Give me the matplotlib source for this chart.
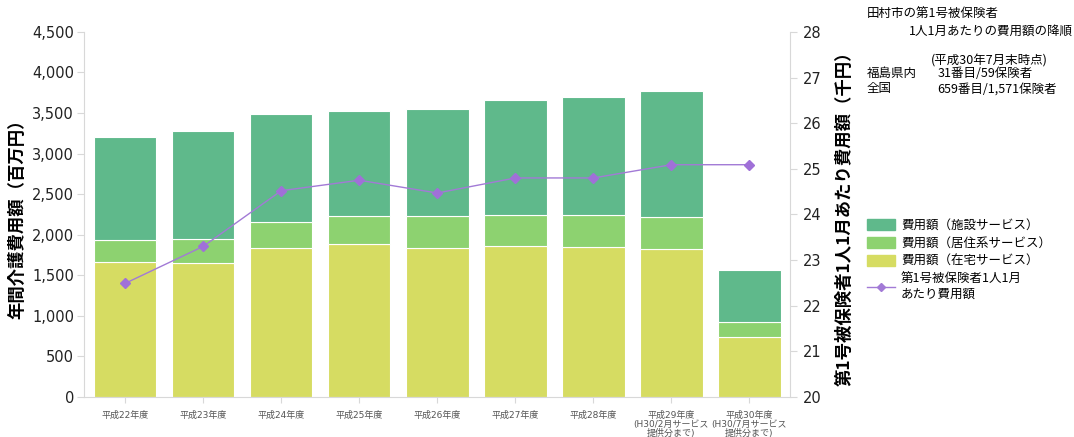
import numpy as np
import matplotlib.pyplot as plt
from matplotlib.patches import Patch
from matplotlib.lines import Line2D

plt.rcParams['font.family'] = ['DejaVu Sans', 'Noto Sans CJK JP']

#------------------------------data-------------------------------------
years = ["平成22年度", "平成23年度", "平成24年度", "平成25年度", "平成26年度",
         "平成27年度", "平成28年度",
         "平成29年度\n(H30/2月サービス\n提供分まで)",
         "平成30年度\n(H30/7月サービス\n提供分まで)"]

# 百万円 (stack: 在宅 / 居住系 / 施設)
zaitaku = np.array([1661, 1648, 1837, 1883, 1837, 1858, 1846, 1825, 736])
kyoju = np.array([271, 296, 317, 349, 395, 386, 398, 391, 185])
shisetsu = np.array([1270, 1336, 1339, 1298, 1323, 1418, 1451, 1553, 649])

# 千円
per_person = np.array([22.49, 23.3, 24.52, 24.75, 24.47, 24.8, 24.8, 25.09, 25.09])
#-----------------------------------------------------------------------

c_zaitaku = "#d6dc62"
c_kyoju = "#8dd270"
c_shisetsu = "#5fb98b"
c_line = "#a27ad6"
spine_col = "#d8d8d8"

fig = plt.figure(figsize=(10.74, 4.37), dpi=100)
ax = fig.add_axes([0.078, 0.0915, 0.6576, 0.8355])
ax2 = ax.twinx()

x = np.arange(len(years))
w = 0.8
ax.bar(x, zaitaku, w, color=c_zaitaku, edgecolor="white", linewidth=0.8)
ax.bar(x, kyoju, w, bottom=zaitaku, color=c_kyoju, edgecolor="white", linewidth=0.8)
ax.bar(x, shisetsu, w, bottom=zaitaku + kyoju, color=c_shisetsu, edgecolor="white", linewidth=0.8)

ax2.plot(x, per_person, color=c_line, linewidth=1.0, marker="D", markersize=5,
         markerfacecolor="#a070d8", markeredgecolor="#a070d8")

ax.set_xlim(-0.53, 8.52)
ax.set_ylim(0, 4500)
ax.set_yticks(np.arange(0, 4501, 500))
ax.set_yticklabels([f"{v:,}" for v in range(0, 4501, 500)])
ax2.set_ylim(20, 28)
ax2.set_yticks(range(20, 29))

ax.set_xticks(x)
ax.set_xticklabels(years, fontsize=6.5, color="#555555", linespacing=0.95)

for a in (ax, ax2):
    for s in a.spines.values():
        s.set_visible(False)
ax.spines["left"].set_visible(True)
ax.spines["bottom"].set_visible(True)
ax.spines["left"].set_color(spine_col)
ax.spines["bottom"].set_color(spine_col)
ax2.spines["right"].set_visible(True)
ax2.spines["right"].set_color(spine_col)

ax.tick_params(axis="y", labelsize=10.5, colors="#222222", length=5, color=spine_col, pad=2)
ax.tick_params(axis="x", length=4, color=spine_col, pad=6)
ax2.tick_params(axis="y", labelsize=10.5, colors="#222222", length=5, color=spine_col, pad=4)

ax.set_ylabel("年間介護費用額（百万円）", fontsize=12.5, fontweight="bold",
              family=["Noto Sans CJK JP"], labelpad=4)
ax2.set_ylabel("第1号被保険者1人1月あたり費用額（千円）", fontsize=12.5, fontweight="bold",
               family=["Noto Sans CJK JP"], labelpad=10)

# ranking note
jp = ["Noto Sans CJK JP"]
fs = 9
fig.text(0.807, 0.966, "田村市の第1号被保険者", fontsize=fs, family=jp, va="center")
fig.text(0.846, 0.928, "1人1月あたりの費用額の降順", fontsize=fs, family=jp, va="center")
fig.text(0.867, 0.860, "(平成30年7月末時点)", fontsize=fs, family=jp, va="center")
fig.text(0.807, 0.831, "福島県内", fontsize=fs, family=jp, va="center")
fig.text(0.873, 0.831, "31番目/59保険者", fontsize=fs, family=jp, va="center")
fig.text(0.807, 0.797, "全国", fontsize=fs, family=jp, va="center")
fig.text(0.873, 0.797, "659番目/1,571保険者", fontsize=fs, family=jp, va="center")

handles = [Patch(color=c_shisetsu), Patch(color=c_kyoju), Patch(color=c_zaitaku),
           Line2D([], [], color=c_line, marker="D", markersize=4, linewidth=1)]
labels = ["費用額（施設サービス）", "費用額（居住系サービス）", "費用額（在宅サービス）",
          "第1号被保険者1人1月\nあたり費用額"]
fig.legend(handles, labels, loc="upper left", bbox_to_anchor=(0.797, 0.525),
           frameon=False, prop={"family": jp, "size": fs},
           handlelength=2.2, handleheight=1.0, labelspacing=0.4, handletextpad=0.5)

fig.savefig("out.png", dpi=100)
